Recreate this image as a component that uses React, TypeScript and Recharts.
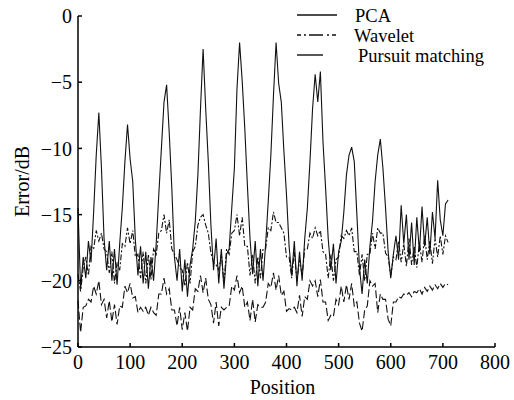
import { LineChart, Line, XAxis, YAxis } from "recharts";

// positions along the signal
const positions = [
  0, 5, 10, 15, 20, 25, 30, 35, 40, 45, 50, 55, 60, 65, 70, 75, 80, 85, 90, 95,
  100, 105, 110, 115, 120, 125, 130, 135, 140, 145, 150, 155, 160, 165, 170, 175,
  180, 185, 190, 195, 200, 205, 210, 215, 220, 225, 230, 235, 240, 245, 250, 255,
  260, 265, 270, 275, 280, 285, 290, 295, 300, 305, 310, 315, 320, 325, 330, 335,
  340, 345, 350, 355, 360, 365, 370, 375, 380, 385, 390, 395, 400, 405, 410, 415,
  420, 425, 430, 435, 440, 445, 450, 455, 460, 465, 470, 475, 480, 485, 490, 495,
  500, 505, 510, 515, 520, 525, 530, 535, 540, 545, 550, 555, 560, 565, 570, 575,
  580, 585, 590, 595, 600, 605, 610, 615, 620, 625, 630, 635, 640, 645, 650, 655,
  660, 665, 670, 675, 680, 685, 690, 695, 700, 705, 710,
];

const pca = [
  -14.5, -20.6, -18.2, -19.8, -17.0, -18.6, -14.8, -10.5, -7.3, -11.5, -16.8, -19.2,
  -17.0, -20.0, -17.6, -20.3, -17.2, -14.5, -11.0, -8.2, -10.8, -12.5, -16.9, -19.6,
  -17.4, -20.2, -17.8, -20.6, -18.2, -20.0, -17.2, -13.5, -10.0, -6.5, -5.2, -8.8,
  -13.0, -18.2, -20.0, -17.6, -20.8, -18.4, -21.2, -18.8, -17.6, -15.5, -12.0, -7.0,
  -2.5, -7.0, -11.0, -15.8, -19.2, -16.8, -20.2, -17.6, -20.6, -18.0, -17.6, -14.5,
  -11.5, -5.5, -2.0, -4.9, -8.5, -12.8, -16.8, -19.5, -17.0, -20.4, -17.6, -20.0,
  -17.2, -14.0, -10.5, -6.0, -2.0, -5.1, -6.5, -10.2, -13.5, -17.4, -19.6, -17.0,
  -20.4, -17.8, -20.0, -16.8, -14.5, -11.0, -7.0, -4.4, -6.5, -4.2, -9.5, -13.0,
  -16.8, -19.2, -17.2, -20.2, -17.8, -17.0, -14.8, -12.0, -10.5, -9.9, -11.0, -15.0,
  -19.0, -21.0, -18.4, -20.2, -17.4, -15.5, -12.5, -10.5, -9.3, -11.5, -14.5, -17.8,
  -19.8, -18.0, -16.6, -18.4, -14.3, -17.2, -15.0, -18.4, -15.6, -18.8, -15.2, -17.8,
  -14.4, -17.4, -15.2, -18.0, -14.8, -16.8, -12.4, -15.4, -16.6, -14.2, -13.9,
];

const wavelet = [
  -19.5, -20.8, -19.0, -18.2, -19.6, -17.4, -17.6, -16.2, -17.0, -16.4, -17.6, -17.8,
  -19.4, -17.8, -20.2, -18.6, -19.2, -17.2, -17.4, -16.0, -17.2, -16.2, -18.2, -18.0,
  -19.8, -17.8, -20.2, -18.0, -19.9, -17.6, -18.0, -16.4, -16.2, -15.0, -16.4, -15.4,
  -17.6, -18.0, -18.4, -19.0, -19.2, -20.4, -18.6, -20.2, -17.8, -17.4, -15.8, -15.2,
  -15.0, -15.8, -16.4, -17.9, -18.6, -18.8, -19.2, -18.0, -20.2, -17.6, -18.0, -16.4,
  -16.2, -15.0, -16.6, -15.2, -17.4, -17.4, -19.6, -18.0, -20.2, -18.2, -19.8, -17.6,
  -17.6, -16.0, -16.2, -14.8, -15.6, -15.6, -16.0, -16.4, -18.2, -18.2, -19.8, -17.8,
  -20.0, -18.4, -19.6, -17.6, -17.6, -16.4, -16.8, -16.0, -16.6, -16.2, -17.8, -18.0,
  -19.8, -18.0, -20.0, -18.4, -18.2, -16.6, -16.8, -16.2, -16.6, -16.0, -17.8, -17.8,
  -19.6, -18.0, -20.0, -18.0, -18.0, -16.4, -17.6, -16.0, -16.4, -16.4, -17.9, -18.2,
  -19.6, -18.2, -18.4, -17.0, -18.6, -17.2, -18.9, -16.8, -18.8, -17.4, -19.0, -17.1,
  -18.6, -16.6, -18.4, -17.0, -18.7, -16.8, -18.2, -16.6, -18.0, -16.6, -17.1,
];

const pursuit = [
  -21.5, -23.9, -22.0, -21.9, -21.4, -21.6, -20.4, -21.0, -20.0, -21.8, -21.4, -22.8,
  -21.5, -23.1, -21.8, -23.3, -21.9, -22.0, -20.4, -20.9, -20.2, -21.3, -21.2, -22.4,
  -22.0, -22.3, -22.0, -22.6, -22.0, -22.4, -22.6, -21.0, -21.0, -19.8, -21.0, -20.6,
  -22.2, -22.2, -23.4, -22.0, -23.7, -22.4, -23.8, -22.0, -22.2, -20.6, -20.8, -19.6,
  -20.9, -19.8, -21.4, -21.8, -23.2, -21.6, -23.4, -22.0, -22.2, -22.0, -21.9, -20.4,
  -20.7, -19.6, -20.9, -20.4, -22.0, -21.6, -23.0, -21.4, -23.1, -21.8, -22.0, -22.0,
  -21.6, -20.2, -20.5, -19.4, -20.7, -19.6, -21.1, -20.8, -22.3, -22.1, -22.2, -22.0,
  -22.4, -21.1, -22.7, -21.2, -21.4, -20.0, -20.4, -20.0, -21.2, -19.9, -21.6, -21.6,
  -23.0, -22.6, -22.7, -21.4, -21.8, -20.4, -21.6, -20.3, -21.4, -20.2, -21.9, -21.6,
  -23.2, -23.8, -22.2, -21.9, -20.0, -20.4, -20.2, -22.4, -21.0, -21.4, -21.4, -22.9,
  -23.4, -21.6, -21.6, -21.2, -21.3, -21.0, -21.1, -20.9, -21.2, -20.8, -20.9, -20.6,
  -21.0, -20.5, -20.8, -20.4, -20.7, -20.3, -20.6, -20.2, -20.5, -20.2, -20.3,
];

const xTicks = [0, 100, 200, 300, 400, 500, 600, 700, 800];
const yTicks = [-25, -20, -15, -10, -5, 0];

const seriesNames = ["PCA", "Wavelet", "Pursuit matching"];

const rows = positions.map((pos, i) => ({
  pos,
  pca: pca[i],
  wavelet: wavelet[i],
  pursuit: pursuit[i],
}));

const FONT = "'Liberation Serif', 'Times New Roman', serif";
const INK = "#111";

const tickStyle = { fill: "#000", fontSize: 20, fontFamily: FONT };

function YTitle(props: any) {
  const vb = props.viewBox || { x: 0, y: 0, height: 0 };
  const cx = vb.x + 22;
  const cy = vb.y + vb.height / 2;
  return (
    <text
      x={cx}
      y={cy}
      transform={`rotate(-90, ${cx}, ${cy})`}
      textAnchor="middle"
      dominantBaseline="central"
      fontFamily={FONT}
      fontSize={20}
      fill="#000"
    >
      Error/dB
    </text>
  );
}

// legend drawn by hand, like the figure's boxed-less key
function LegendBox() {
  const rowsKey = [
    { dash: undefined, len: 40, y: 15, tx: 355, ty: 22 },
    { dash: "4 3 2 3 14 4 2 3", len: 41, y: 35, tx: 354, ty: 42 },
    { dash: undefined, len: 26, y: 55, tx: 358, ty: 62 },
  ];
  return (
    <g>
      {rowsKey.map((s, i) => (
        <g key={seriesNames[i]}>
          <line
            x1={297}
            x2={297 + s.len}
            y1={s.y}
            y2={s.y}
            stroke={INK}
            strokeWidth={1.4}
            strokeDasharray={s.dash}
          />
          <text x={s.tx} y={s.ty} fontFamily={FONT} fontSize={18.5} fill="#000">
            {seriesNames[i]}
          </text>
        </g>
      ))}
    </g>
  );
}

export default function App() {
  return (
    <div style={{ position: "absolute", left: 0, top: 0, background: "#fff" }}>
      <LineChart
        width={514}
        height={400}
        data={rows}
        margin={{ top: 16, right: 19, left: 0, bottom: 0 }}
      >
        <XAxis
          dataKey="pos"
          type="number"
          domain={[0, 800]}
          ticks={xTicks}
          height={53}
          tickSize={-4}
          tickMargin={12}
          tick={tickStyle}
          axisLine={{ stroke: "#000", strokeWidth: 1.5 }}
          tickLine={{ stroke: "#000", strokeWidth: 1.5 }}
          label={{
            value: "Position",
            position: "insideBottom",
            offset: 6,
            dx: -4,
            fontSize: 20,
            fontFamily: FONT,
            fill: "#000",
          }}
        />
        <YAxis
          type="number"
          domain={[-25, 0]}
          ticks={yTicks}
          width={78}
          tickSize={-4}
          tickMargin={10}
          tick={tickStyle}
          tickFormatter={(v: number) => String(v).replace("-", "\u2212")}
          axisLine={{ stroke: "#000", strokeWidth: 1.5 }}
          tickLine={{ stroke: "#000", strokeWidth: 1.5 }}
          label={<YTitle />}
        />
        <Line
          type="linear"
          dataKey="pca"
          name={seriesNames[0]}
          stroke={INK}
          strokeWidth={1.1}
          dot={false}
          isAnimationActive={false}
        />
        <Line
          type="linear"
          dataKey="wavelet"
          name={seriesNames[1]}
          stroke={INK}
          strokeWidth={1.1}
          strokeDasharray="6 2 2 2"
          dot={false}
          isAnimationActive={false}
        />
        <Line
          type="linear"
          dataKey="pursuit"
          name={seriesNames[2]}
          stroke={INK}
          strokeWidth={1.1}
          strokeDasharray="8 3"
          dot={false}
          isAnimationActive={false}
        />
        <LegendBox />
      </LineChart>
    </div>
  );
}
